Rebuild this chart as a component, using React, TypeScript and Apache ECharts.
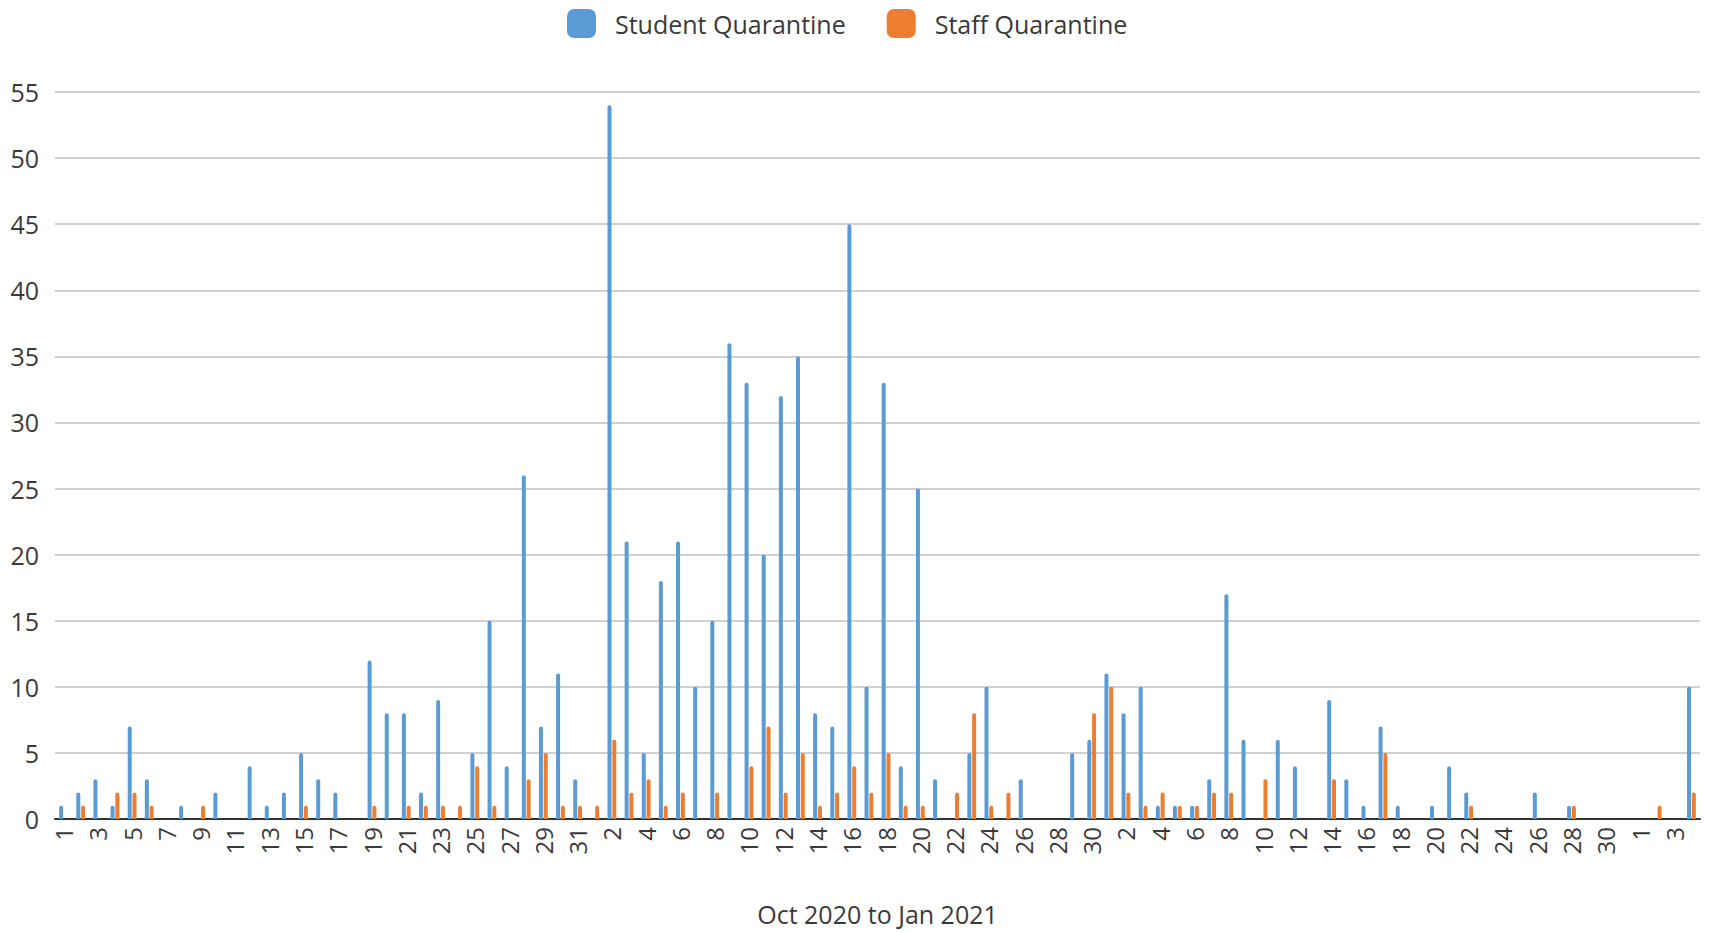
import React, { useEffect, useRef } from "react";
import * as echarts from "echarts";

// Months covered and number of days shown for each
const months = ["Oct", "Nov", "Dec", "Jan"];
const daysShown = [31, 30, 31, 4];

const categories: string[] = [];
months.forEach((m, i) => {
  for (let d = 1; d <= daysShown[i]; d++) categories.push(`${m} ${d}`);
});

// Student Quarantine (blue)
const studentOct = [1, 2, 3, 1, 7, 3, 0, 1, 0, 2, 0, 4, 1, 2, 5, 3, 2, 0, 12, 8, 8, 2, 9, 0, 5, 15, 4, 26, 7, 11, 3];
const studentNov = [0, 54, 21, 5, 18, 21, 10, 15, 36, 33, 20, 32, 35, 8, 7, 45, 10, 33, 4, 25, 3, 0, 5, 10, 0, 3, 0, 0, 5, 6];
const studentDec = [11, 8, 10, 1, 1, 1, 3, 17, 6, 0, 6, 4, 0, 9, 3, 1, 7, 1, 0, 1, 4, 2, 0, 0, 0, 2, 0, 1, 0, 0, 0];
const studentJan = [0, 0, 0, 10];

// Staff Quarantine (orange)
const staffOct = [0, 1, 0, 2, 2, 1, 0, 0, 1, 0, 0, 0, 0, 0, 1, 0, 0, 0, 1, 0, 1, 1, 1, 1, 4, 1, 0, 3, 5, 1, 1];
const staffNov = [1, 6, 2, 3, 1, 2, 0, 2, 0, 4, 7, 2, 5, 1, 2, 4, 2, 5, 1, 1, 0, 2, 8, 1, 2, 0, 0, 0, 0, 8];
const staffDec = [10, 2, 1, 2, 1, 1, 2, 2, 0, 3, 0, 0, 0, 3, 0, 0, 5, 0, 0, 0, 0, 1, 0, 0, 0, 0, 0, 1, 0, 0, 0];
const staffJan = [0, 1, 0, 2];

const studentQuarantine = [...studentOct, ...studentNov, ...studentDec, ...studentJan];
const staffQuarantine = [...staffOct, ...staffNov, ...staffDec, ...staffJan];

const seriesNames = ["Student Quarantine", "Staff Quarantine"];
const axisTitle = "Oct 2020 to Jan 2021";

const FONT = "'Open Sans', 'Noto Sans', sans-serif";
const TEXT = "#3a3a3a";

export default function App() {
  const ref = useRef<HTMLDivElement>(null);

  useEffect(() => {
    document.body.style.margin = "0";
    if (!ref.current) return;
    const chart = echarts.init(ref.current, undefined, { renderer: "svg" });
    chart.setOption({
      animation: false,
      backgroundColor: "#ffffff",
      textStyle: { fontFamily: FONT },
      legend: {
        left: 562,
        top: 4,
        itemWidth: 29,
        itemHeight: 29,
        itemGap: 41,
        icon: "roundRect",
        textStyle: { fontSize: 25, color: TEXT, fontFamily: FONT, padding: [0, 0, 0, 14] },
        data: seriesNames,
      },
      grid: { left: 55, right: 13, top: 92, bottom: 114, containLabel: false, outerBoundsMode: "none" },
      xAxis: {
        type: "category",
        data: categories,
        boundaryGap: true,
        name: axisTitle,
        nameLocation: "middle",
        nameGap: 82,
        nameMoveOverlap: false,
        nameTextStyle: { fontSize: 25, lineHeight: 26, color: TEXT, fontFamily: FONT },
        axisLine: { lineStyle: { color: "#333333", width: 2 } },
        axisTick: { show: false },
        axisLabel: {
          rotate: 90,
          interval: 1,
          margin: 8,
          fontSize: 24,
          color: TEXT,
          fontFamily: FONT,
          formatter: (v: string) => v.split(" ")[1],
        },
      },
      yAxis: {
        type: "value",
        min: 0,
        max: 55,
        interval: 5,
        axisLine: { show: false },
        axisTick: { show: false },
        axisLabel: { margin: 16, fontSize: 25, color: TEXT, fontFamily: FONT },
        splitLine: { lineStyle: { color: "#d0d0d0", width: 2 } },
      },
      series: [
        {
          name: seriesNames[0],
          type: "bar",
          data: studentQuarantine,
          barWidth: 4,
          barGap: "20%",
          itemStyle: { color: "#5B9BD5", borderRadius: [2, 2, 0, 0] },
        },
        {
          name: seriesNames[1],
          type: "bar",
          data: staffQuarantine,
          barWidth: 4,
          barGap: "20%",
          itemStyle: { color: "#ED7D31", borderRadius: [2, 2, 0, 0] },
        },
      ],
    });
    return () => chart.dispose();
  }, []);

  return <div ref={ref} style={{ width: 1713, height: 933 }} />;
}
